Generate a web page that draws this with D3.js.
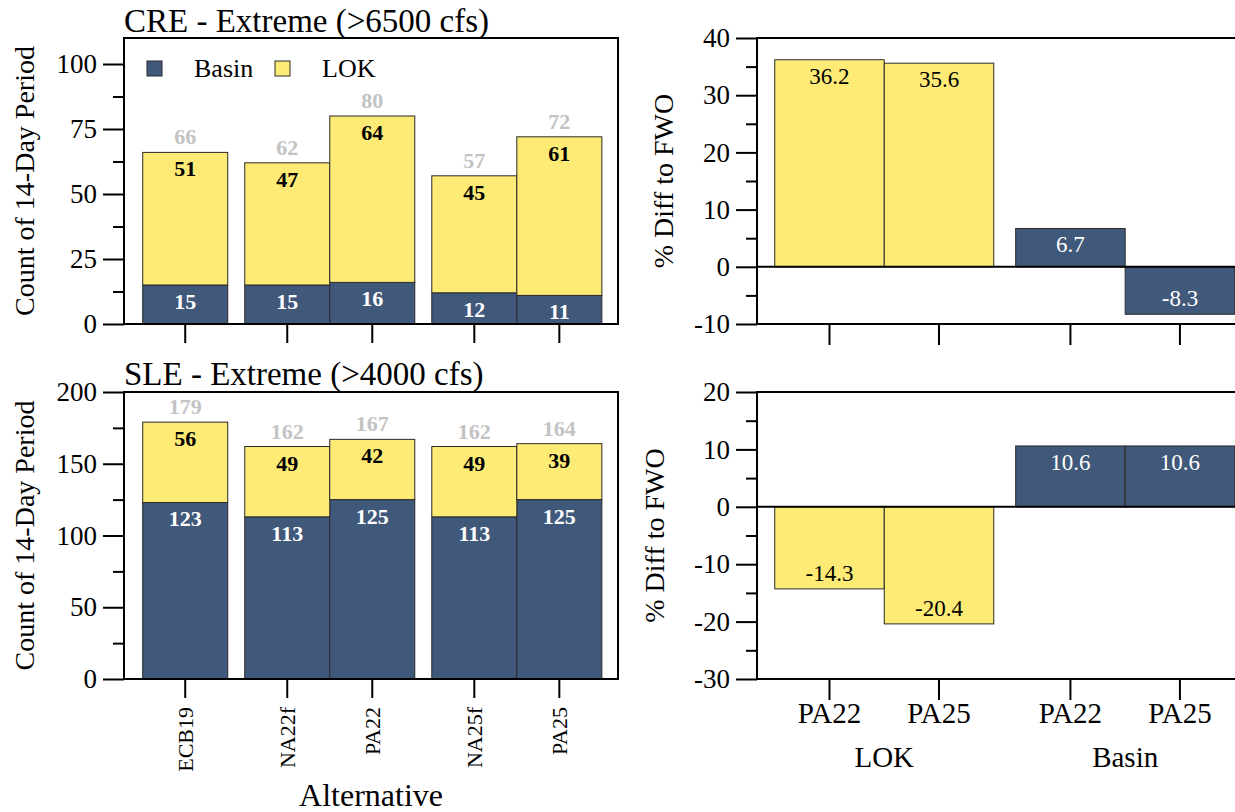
<!DOCTYPE html>
<html>
<head>
<meta charset="utf-8">
<script src="https://cdn.jsdelivr.net/npm/d3@7"></script>
<style>
  html, body { margin: 0; padding: 0; background: #fff; }
  svg { display: block; }
  svg text { font-family: "Liberation Serif", "Times New Roman", serif; }
</style>
</head>
<body>
<svg id="chart" width="1235" height="812"></svg>
<script>
// ---- Data ----
const alternatives = ["ECB19", "NA22f", "PA22", "NA25f", "PA25"];
const altGroup = [0, 1, 1, 2, 2];          // bars sharing a group sit side by side

const creBasin = [15, 15, 16, 12, 11];
const creLOK   = [51, 47, 64, 45, 61];
const creTotal = [66, 62, 80, 57, 72];

const sleBasin = [123, 113, 125, 113, 125];
const sleLOK   = [56, 49, 42, 49, 39];
const sleTotal = [179, 162, 167, 162, 164];

const diffAlts   = ["PA22", "PA25", "PA22", "PA25"];
const diffSource = ["LOK", "LOK", "Basin", "Basin"];
const diffGroups = ["LOK", "Basin"];
const creDiff = [36.2, 35.6, 6.7, -8.3];
const sleDiff = [-14.3, -20.4, 10.6, 10.6];

const creTicks = [0, 25, 50, 75, 100];
const sleTicks = [0, 50, 100, 150, 200];
const creDiffTicks = [-10, 0, 10, 20, 30, 40];
const sleDiffTicks = [-30, -20, -10, 0, 10, 20];

// ---- Styles ----
const COL = { Basin: "#40587a", LOK: "#fdeb75" };
const GRAY = "#c3c3c3";
const svg = d3.select("#chart");

// plain hyphen for negative numbers
const fmtInt = d => (d < 0 ? "-" : "") + Math.abs(d);
const fmt1 = d => (d < 0 ? "-" : "") + Math.abs(d).toFixed(1);

function slotsOf(groups) { return groups.map((g, i) => i + 0.2 * g); }

function frame(g, x0, x1, y0, y1) {
  g.append("rect").attr("x", x0).attr("y", y0).attr("width", x1 - x0).attr("height", y1 - y0)
    .attr("fill", "none").attr("stroke", "#000").attr("stroke-width", 2);
}

function yAxis(g, y, x0, ticks, minorStep) {
  const minor = [];
  for (let v = y.domain()[0]; v <= y.domain()[1] + 1e-9; v += minorStep) {
    if (!ticks.includes(v)) minor.push(v);
  }
  const ax = g.append("g").attr("transform", `translate(${x0},0)`)
    .call(d3.axisLeft(y).tickValues(ticks).tickSize(21).tickSizeOuter(0).tickPadding(6).tickFormat(fmtInt));
  ax.attr("font-family", null).attr("font-size", null);
  ax.select(".domain").remove();
  ax.selectAll("line").attr("stroke", "#000").attr("stroke-width", 2);
  ax.selectAll("text").attr("font-size", 27).attr("fill", "#000");
  const mx = g.append("g").attr("transform", `translate(${x0},0)`)
    .call(d3.axisLeft(y).tickValues(minor).tickSize(11).tickSizeOuter(0).tickFormat(""));
  mx.select(".domain").remove();
  mx.selectAll("line").attr("stroke", "#000").attr("stroke-width", 2);
}

function xTicks(g, x, slots, yBottom, len) {
  g.selectAll(null).data(slots).join("line")
    .attr("x1", d => x(d)).attr("x2", d => x(d))
    .attr("y1", yBottom).attr("y2", yBottom + len)
    .attr("stroke", "#000").attr("stroke-width", 2);
}

// ---- Stacked count panels ----
function countPanel(opts) {
  const { top, bottom, yMax, basin, lok, total, ticks, minorStep, title, titleY, showXLabels } = opts;
  const L = 124, R = 618;
  const g = svg.append("g");
  const slots = slotsOf(altGroup);
  const x = d3.scaleLinear().domain([-0.72, 5.09]).range([L, R]);
  const y = d3.scaleLinear().domain([0, yMax]).range([bottom, top]);
  const bw = x(0.5) - x(-0.5);

  const rows = alternatives.map((a, i) => ({ a, s: slots[i], basin: basin[i], lok: lok[i], total: total[i] }));

  // basin segment
  g.selectAll(null).data(rows).join("rect")
    .attr("x", d => x(d.s) - bw / 2).attr("width", bw)
    .attr("y", d => y(d.basin)).attr("height", d => y(0) - y(d.basin))
    .attr("fill", COL.Basin).attr("stroke", "#2a2a2a").attr("stroke-width", 1);
  // LOK segment stacked on top
  g.selectAll(null).data(rows).join("rect")
    .attr("x", d => x(d.s) - bw / 2).attr("width", bw)
    .attr("y", d => y(d.basin + d.lok)).attr("height", d => y(d.basin) - y(d.basin + d.lok))
    .attr("fill", COL.LOK).attr("stroke", "#2a2a2a").attr("stroke-width", 1);

  const lab = (sel) => sel.attr("text-anchor", "middle").attr("font-size", 22).attr("font-weight", "bold");
  g.selectAll(null).data(rows).join("text").call(lab)
    .attr("x", d => x(d.s)).attr("y", d => y(d.basin) + 24).attr("fill", "#fff").text(d => d.basin);
  g.selectAll(null).data(rows).join("text").call(lab)
    .attr("x", d => x(d.s)).attr("y", d => y(d.basin + d.lok) + 24).attr("fill", "#000").text(d => d.lok);
  g.selectAll(null).data(rows).join("text").call(lab)
    .attr("x", d => x(d.s)).attr("y", d => y(d.total) - 8).attr("fill", GRAY).text(d => d.total);

  frame(g, L, R, top, bottom);
  yAxis(g, y, L, ticks, minorStep);
  xTicks(g, x, slots, bottom, 19);

  g.append("text").attr("x", L).attr("y", titleY).attr("font-size", 33).text(title);
  g.append("text").attr("transform", `translate(34,${(top + bottom) / 2}) rotate(-90)`)
    .attr("text-anchor", "middle").attr("font-size", 28).text("Count of 14-Day Period");

  if (showXLabels) {
    g.selectAll(null).data(rows).join("text")
      .attr("transform", d => `translate(${x(d.s)},707) rotate(-90)`)
      .attr("text-anchor", "end").attr("dy", "0.35em").attr("font-size", 22).text(d => d.a);
  }
  return g;
}

const creG = countPanel({ top: 38, bottom: 324, yMax: 110, basin: creBasin, lok: creLOK, total: creTotal,
  ticks: creTicks, minorStep: 12.5, title: "CRE - Extreme (>6500 cfs)", titleY: 32, showXLabels: false });

// legend
const legendKeys = ["Basin", "LOK"];
const legX = [147, 275];
legendKeys.forEach((k, i) => {
  creG.append("rect").attr("x", legX[i]).attr("y", 61).attr("width", 15).attr("height", 15)
    .attr("fill", COL[k]).attr("stroke", "#2a2a2a").attr("stroke-width", 1);
  creG.append("text").attr("x", legX[i] + 47).attr("y", 77).attr("font-size", 26).text(k);
});

countPanel({ top: 392, bottom: 679, yMax: 200, basin: sleBasin, lok: sleLOK, total: sleTotal,
  ticks: sleTicks, minorStep: 25, title: "SLE - Extreme (>4000 cfs)", titleY: 385, showXLabels: true });

svg.append("text").attr("x", 371).attr("y", 806).attr("text-anchor", "middle").attr("font-size", 32).text("Alternative");

// ---- % difference panels ----
function diffPanel(opts) {
  const { top, bottom, yMin, yMax, values, ticks, titleX, showXLabels } = opts;
  const L = 757, R = 1236;
  const g = svg.append("g");
  const groupIdx = diffSource.map(s => diffGroups.indexOf(s));
  const slots = slotsOf(groupIdx);
  const x = d3.scaleLinear().domain([-0.662, 3.712]).range([L, R]);
  const y = d3.scaleLinear().domain([yMin, yMax]).range([bottom, top]);
  const bw = x(0.5) - x(-0.5);
  const rows = values.map((v, i) => ({ v, s: slots[i], src: diffSource[i], alt: diffAlts[i] }));

  g.selectAll(null).data(rows).join("rect")
    .attr("x", d => x(d.s) - bw / 2).attr("width", bw)
    .attr("y", d => y(Math.max(0, d.v))).attr("height", d => Math.abs(y(d.v) - y(0)))
    .attr("fill", d => COL[d.src]).attr("stroke", "#2a2a2a").attr("stroke-width", 1);

  g.selectAll(null).data(rows).join("text")
    .attr("x", d => x(d.s)).attr("y", d => d.v >= 0 ? y(d.v) + 24 : y(d.v) - 8)
    .attr("text-anchor", "middle").attr("font-size", 23)
    .attr("fill", d => d.src === "Basin" ? "#fff" : "#000").text(d => fmt1(d.v));

  g.append("line").attr("x1", L).attr("x2", R).attr("y1", y(0)).attr("y2", y(0))
    .attr("stroke", "#000").attr("stroke-width", 2);
  frame(g, L, R, top, bottom);
  yAxis(g, y, L, ticks, 5);
  xTicks(g, x, slots, bottom, 21);

  g.append("text").attr("transform", `translate(${titleX},${(top + bottom) / 2}) rotate(-90)`)
    .attr("text-anchor", "middle").attr("font-size", 28).text("% Diff to FWO");

  if (showXLabels) {
    g.selectAll(null).data(rows).join("text")
      .attr("x", d => x(d.s)).attr("y", 723).attr("text-anchor", "middle").attr("font-size", 29).text(d => d.alt);
    g.selectAll(null).data(diffGroups).join("text")
      .attr("x", gname => {
        const s = slots.filter((_, i) => diffSource[i] === gname);
        return x(d3.mean(s));
      })
      .attr("y", 767).attr("text-anchor", "middle").attr("font-size", 29).text(d => d);
  }
}

diffPanel({ top: 38, bottom: 324, yMin: -10, yMax: 40, values: creDiff, ticks: creDiffTicks, titleX: 673, showXLabels: false });
diffPanel({ top: 392, bottom: 679, yMin: -30, yMax: 20, values: sleDiff, ticks: sleDiffTicks, titleX: 664, showXLabels: true });
</script>
</body>
</html>
